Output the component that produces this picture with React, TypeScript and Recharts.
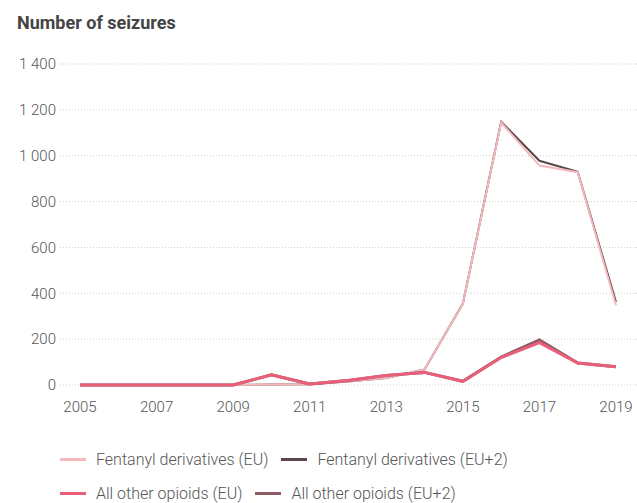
import React from 'react';
import { LineChart, Line, XAxis, YAxis, CartesianGrid, Legend } from 'recharts';

const years = [2005, 2006, 2007, 2008, 2009, 2010, 2011, 2012, 2013, 2014, 2015, 2016, 2017, 2018, 2019];
const fentanylEU = [0, 0, 0, 0, 0, 2, 3, 15, 30, 68, 355, 1145, 957, 928, 348];
const fentanylEU2 = [0, 0, 0, 0, 0, 2, 3, 15, 30, 68, 355, 1148, 978, 930, 362];
const otherEU = [0, 0, 0, 0, 0, 44, 4, 20, 42, 55, 16, 120, 185, 96, 80];
const otherEU2 = [0, 0, 0, 0, 0, 44, 4, 20, 42, 55, 16, 122, 197, 96, 80];
const xTicks = [2005, 2007, 2009, 2011, 2013, 2015, 2017, 2019];
const yTicks = [0, 200, 400, 600, 800, 1000, 1200, 1400];

const data = years.map((year, i) => ({
  year,
  fentanylEU: fentanylEU[i],
  fentanylEU2: fentanylEU2[i],
  otherEU: otherEU[i],
  otherEU2: otherEU2[i],
}));

const FONT = 'Roboto, "Liberation Sans", sans-serif';

const legendItems = [
  [
    { name: 'Fentanyl derivatives (EU)', color: '#f5b8bd' },
    { name: 'Fentanyl derivatives (EU+2)', color: '#5c474e' },
  ],
  [
    { name: 'All other opioids (EU)', color: '#e95f79' },
    { name: 'All other opioids (EU+2)', color: '#8f5c66' },
  ],
];

// Thin space for thousands like "1 400"
const formatTick = (n: number) =>
  n >= 1000 ? `${Math.floor(n / 1000)} ${String(n % 1000).padStart(3, '0')}` : String(n);

const CustomLegend = () => (
  <div style={{ fontFamily: FONT, fontWeight: 300, fontSize: 16, color: '#555', paddingTop: 27 }}>
    {legendItems.map((row, r) => (
      <div key={r} style={{ display: 'flex', alignItems: 'center', height: 34, paddingLeft: 60 }}>
        {row.map((item) => (
          <div key={item.name} style={{ display: 'flex', alignItems: 'center', marginRight: 13 }}>
            <span style={{ display: 'inline-block', width: 26, height: 3, background: item.color, marginRight: 10 }} />
            <span>{item.name}</span>
          </div>
        ))}
      </div>
    ))}
  </div>
);

export default function App() {
  return (
    <div style={{ position: 'absolute', left: 0, top: 0, width: 637, height: 503, background: '#fff' }}>
      <div
        style={{
          position: 'absolute',
          left: 17,
          top: 12,
          fontFamily: FONT,
          fontWeight: 700,
          fontSize: 18,
          color: '#444',
        }}
      >
        Number of seizures
      </div>
      <LineChart width={637} height={503} data={data} margin={{ top: 64, right: 0, left: 0, bottom: 0 }}>
        <CartesianGrid vertical={false} stroke="#cfcfcf" strokeDasharray="1 2" />
        <XAxis
          dataKey="year"
          type="number"
          domain={[2005, 2019]}
          ticks={xTicks}
          padding={{ left: 20, right: 21 }}
          axisLine={false}
          tickLine={false}
          tickMargin={10}
          height={30}
          tick={{ fill: '#555', fontSize: 15, fontFamily: FONT, fontWeight: 300 }}
        />
        <YAxis
          domain={[0, 1400]}
          ticks={yTicks}
          width={60}
          axisLine={false}
          tickLine={false}
          tickSize={4}
          tickMargin={0}
          tickFormatter={formatTick}
          tick={{ fill: '#555', fontSize: 15, fontFamily: FONT, fontWeight: 300 }}
        />
        <Legend verticalAlign="bottom" height={88} content={() => <CustomLegend />} />
        <Line dataKey="fentanylEU2" stroke="#5c474e" strokeWidth={2} dot={false} isAnimationActive={false} />
        <Line dataKey="fentanylEU" stroke="#f5b8bd" strokeWidth={2} dot={false} isAnimationActive={false} />
        <Line dataKey="otherEU2" stroke="#8f5c66" strokeWidth={3} dot={false} isAnimationActive={false} />
        <Line dataKey="otherEU" stroke="#e95f79" strokeWidth={3} dot={false} isAnimationActive={false} />
      </LineChart>
    </div>
  );
}
